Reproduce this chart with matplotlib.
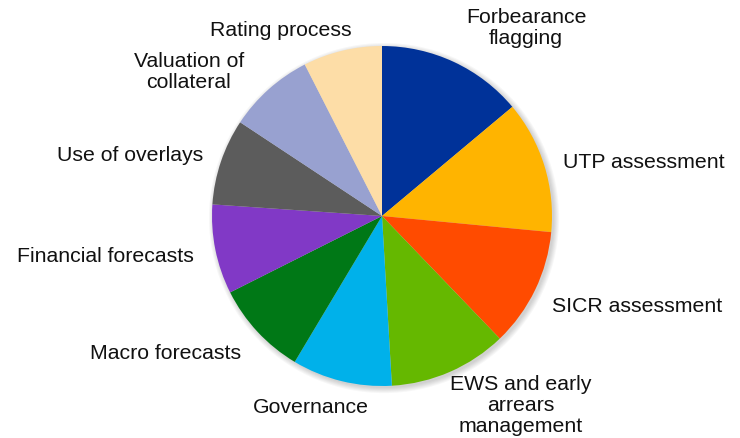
"""
Pie chart of review topics
"""

import matplotlib.pyplot as plt
from matplotlib.patches import Circle

plt.rcParams['font.family'] = ['Liberation Sans', 'DejaVu Sans']

# data, clockwise from 12 o'clock
topics = ['Forbearance\nflagging', 'UTP assessment', 'SICR assessment',
          'EWS and early\narrears\nmanagement', 'Governance', 'Macro forecasts',
          'Financial forecasts', 'Use of overlays', 'Valuation of\ncollateral',
          'Rating process']
shares = [13.9, 12.6, 11.3, 11.25, 9.5, 9.0, 8.5, 8.2, 8.2, 7.5]
colors = ['#003299', '#FFB400', '#FF4B00', '#65B800', '#00B1EA',
          '#007816', '#8139C6', '#5C5C5C', '#98A1D0', '#FDDDA7']

# label anchors in pixels (x, last-line baseline y) and alignment
W, H = 740, 438
CX, CY, R = 382, 216, 170
label_pos = [(526, 44, 'center'), (563, 167.5, 'left'), (552, 311.5, 'left'),
             (521, 432, 'center'), (311, 413, 'center'), (241, 359, 'right'),
             (194, 261.5, 'right'), (203, 161, 'right'), (189, 88.5, 'center'),
             (352, 35.5, 'right')]


def to_data(px, py):
    return (px - CX) / R, (CY - py) / R


fig = plt.figure(figsize=(W / 100, H / 100), dpi=100)
ax = fig.add_axes([0, 0, 1, 1])

# soft shadow like the original
for k in range(6):
    ax.add_patch(Circle((0.012, -0.012), 1.0 + k * 0.006, color='black',
                        alpha=0.03, lw=0, zorder=0))

ax.pie(shares, colors=colors, startangle=90, counterclock=False, radius=1,
       wedgeprops=dict(linewidth=0))

for text, (px, py, ha) in zip(topics, label_pos):
    x, y = to_data(px, py)
    ax.text(x, y, text, ha=ha, va='baseline', fontsize=15.3,
            multialignment='center', linespacing=1.15, color='#111111')

ax.set_aspect('auto')
ax.set_xlim(-CX / R, (W - CX) / R)
ax.set_ylim((CY - H) / R, CY / R)
ax.axis('off')

fig.savefig('out.png', dpi=100, facecolor='white')
